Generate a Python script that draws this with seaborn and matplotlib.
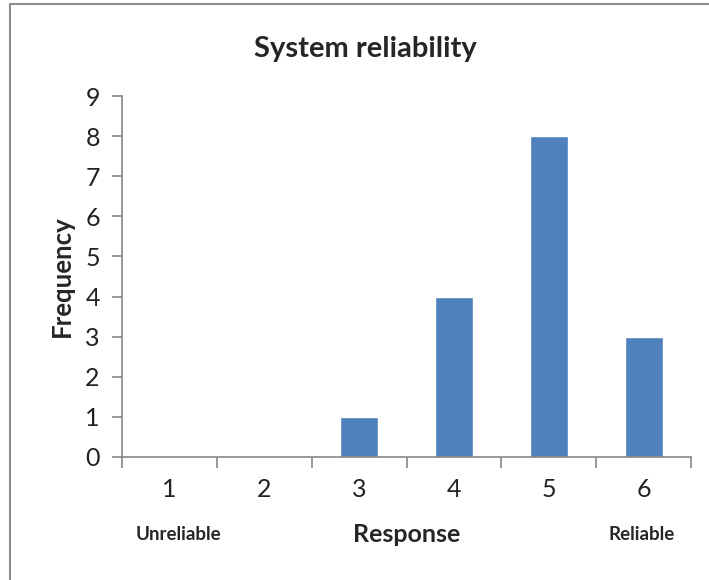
import pandas as pd
import numpy as np
import matplotlib.pyplot as plt
from matplotlib.lines import Line2D
from matplotlib.ticker import FixedLocator
import seaborn as sns

responses = ['1', '2', '3', '4', '5', '6']
frequency = [0, 0, 1, 4, 8, 3]
y_ticks = list(range(0, 10))

df = pd.DataFrame({'Response': responses, 'Frequency': frequency})

sns.set_style('white')
plt.rcParams['font.family'] = ['Lato', 'DejaVu Sans']

fig = plt.figure(figsize=(7.09, 5.8), dpi=100)
ax = fig.add_axes([122 / 709, 1 - 457 / 580, (691 - 122) / 709, (457 - 96) / 580])

sns.barplot(data=df, x='Response', y='Frequency', order=responses,
            color='#4F81BD', saturation=1, width=0.4, ax=ax)

ax.set_ylim(0, 9)
ax.set_xlim(-0.5, 5.5)
ax.set_yticks(y_ticks)

axis_col = '#868686'
for s in ['top', 'right']:
    ax.spines[s].set_visible(False)
for s in ['left', 'bottom']:
    ax.spines[s].set_color(axis_col)
    ax.spines[s].set_linewidth(1.2)

ax.tick_params(axis='y', direction='out', length=7, width=1.2, color=axis_col,
               labelsize=18, pad=9, left=True, labelcolor='#222222')
ax.tick_params(axis='x', which='major', length=0, labelsize=18, pad=15,
               labelcolor='#222222')
ax.xaxis.set_minor_locator(FixedLocator(np.arange(-0.5, 6, 1)))
ax.tick_params(axis='x', which='minor', direction='out', length=8, width=1.2,
               color=axis_col, bottom=True)

# title sits centred on the whole chart, not on the plot area
ax.set_title('System reliability', fontsize=21, fontweight='bold', pad=28, x=0.428)
ax.set_ylabel('Frequency', fontsize=18.5, fontweight='bold', labelpad=8)
ax.set_xlabel('Response', fontsize=18, fontweight='bold', labelpad=16)

trans = ax.get_xaxis_transform()
ax.text(0.1, -0.215, 'Unreliable', transform=trans, ha='center', va='center',
        fontsize=13.5, fontweight='bold')
ax.text(4.98, -0.215, 'Reliable', transform=trans, ha='center', va='center',
        fontsize=13.5, fontweight='bold')

# frame around the chart (left and top edges visible in the crop)
fig.add_artist(Line2D([10 / 709, 10 / 709], [0, 1 - 4 / 580], transform=fig.transFigure,
                      color='#8c8c8c', lw=1.5))
fig.add_artist(Line2D([10 / 709, 1], [1 - 4 / 580, 1 - 4 / 580], transform=fig.transFigure,
                      color='#8c8c8c', lw=1.5))

fig.savefig('out.png', dpi=100, facecolor='white')
